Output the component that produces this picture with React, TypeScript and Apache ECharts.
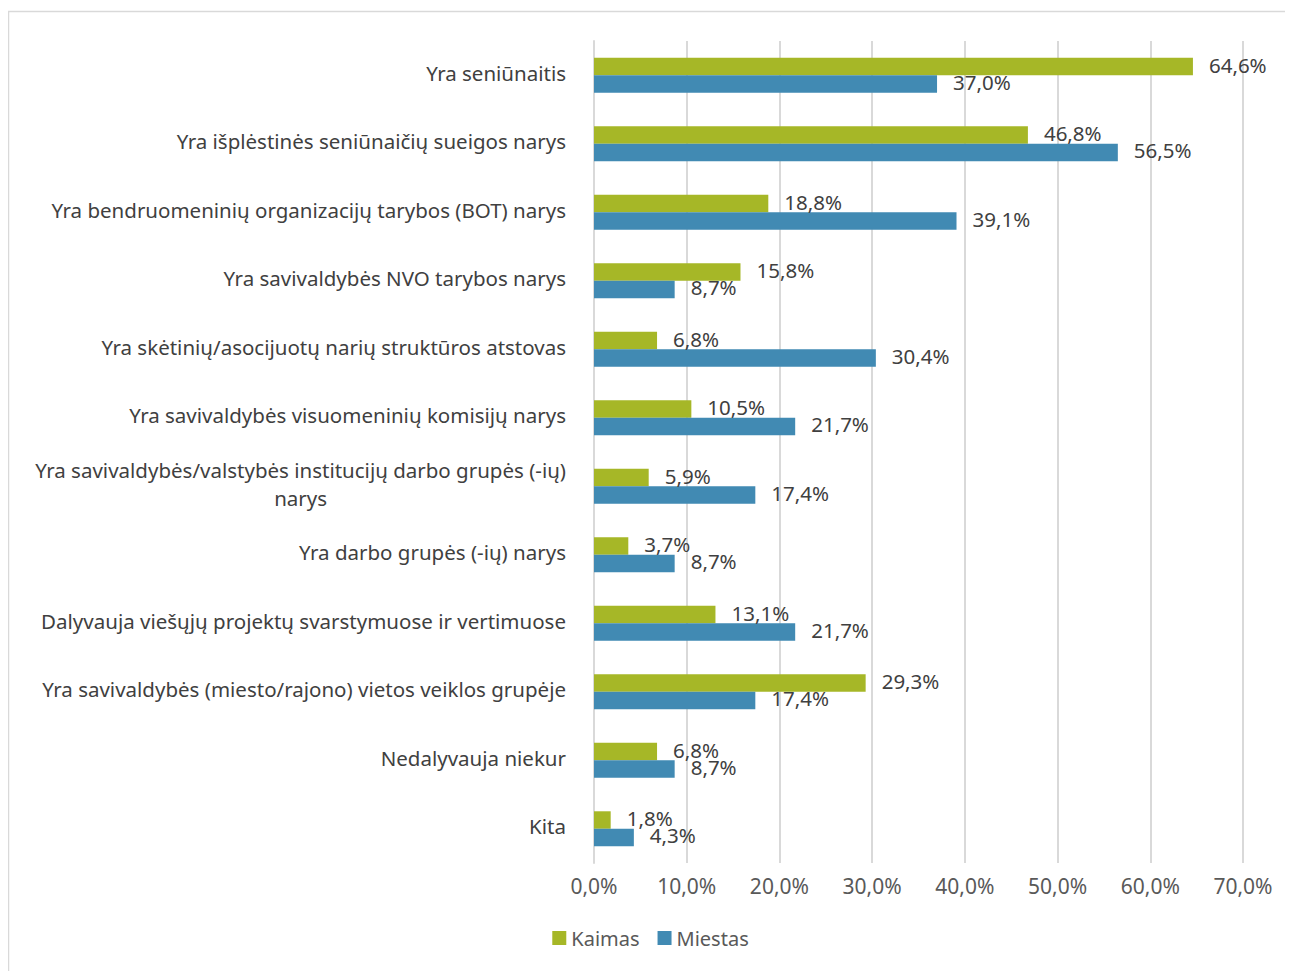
import React, { useEffect, useRef } from "react";
import * as echarts from "echarts";

const categories = [
  "Yra seniūnaitis",
  "Yra išplėstinės seniūnaičių sueigos narys",
  "Yra bendruomeninių organizacijų tarybos (BOT) narys",
  "Yra savivaldybės NVO tarybos narys",
  "Yra skėtinių/asocijuotų narių struktūros atstovas",
  "Yra savivaldybės visuomeninių komisijų narys",
  "Yra savivaldybės/valstybės institucijų darbo grupės (-ių) narys",
  "Yra darbo grupės (-ių) narys",
  "Dalyvauja viešųjų projektų svarstymuose ir vertimuose",
  "Yra savivaldybės (miesto/rajono) vietos veiklos grupėje",
  "Nedalyvauja niekur",
  "Kita",
];

const kaimas = [64.6, 46.8, 18.8, 15.8, 6.8, 10.5, 5.9, 3.7, 13.1, 29.3, 6.8, 1.8];
const miestas = [37.0, 56.5, 39.1, 8.7, 30.4, 21.7, 17.4, 8.7, 21.7, 17.4, 8.7, 4.3];

const xTicks = [0, 10, 20, 30, 40, 50, 60, 70];

const FONT = "Noto Sans";
const FS = 20.5;
const fmt = (v: number) => v.toFixed(1).replace(".", ",") + "%";

export default function App() {
  const ref = useRef<HTMLDivElement>(null);
  useEffect(() => {
    if (!ref.current) return;
    const chart = echarts.init(ref.current, undefined, { renderer: "svg" });
    const labelStyle = {
      show: true,
      position: "right" as const,
      distance: 16,
      offset: [0, -2],
      color: "#404040",
      fontSize: FS,
      fontFamily: FONT,
      formatter: (p: any) => fmt(p.value),
    };
    chart.setOption({
      animation: false,
      textStyle: { fontFamily: FONT },
      graphic: [
        {
          type: "rect",
          shape: { x: 0.5, y: 3.5, width: 1400, height: 1100 },
          style: { fill: "none", stroke: "#d9d9d9", lineWidth: 1.5 },
          silent: true,
        },
      ],
      grid: { left: 586, right: 50, top: 33, bottom: 108, containLabel: false },
      legend: {
        bottom: 18,
        left: "center",
        itemWidth: 14,
        itemHeight: 14,
        itemGap: 18,
        icon: "rect",
        textStyle: { color: "#595959", fontSize: 20, fontFamily: FONT },
        data: ["Kaimas", "Miestas"],
      },
      xAxis: {
        type: "value",
        min: xTicks[0],
        max: xTicks[xTicks.length - 1],
        interval: 10,
        axisLine: { show: false },
        axisTick: { show: false },
        splitLine: { lineStyle: { color: "#d9d9d9", width: 2 } },
        axisLabel: {
          color: "#595959",
          fontSize: 21,
          fontFamily: FONT,
          margin: 12,
          formatter: (v: number) => fmt(v),
        },
      },
      yAxis: {
        type: "category",
        data: categories,
        inverse: true,
        axisLine: { show: true, lineStyle: { color: "#d9d9d9", width: 2 } },
        axisTick: { show: false },
        axisLabel: {
          color: "#404040",
          fontSize: FS,
          fontFamily: FONT,
          margin: 28,
          align: "right",
          padding: [0, 0, 5, 0],
          formatter: (v: string) => {
            if (v.length > 56) {
              const idx = v.lastIndexOf(" ");
              return "{a|" + v.slice(0, idx) + "}\n{c|" + v.slice(idx + 1) + "}";
            }
            return v;
          },
          rich: {
            a: { color: "#404040", fontSize: FS, fontFamily: FONT, lineHeight: 28 },
            c: { color: "#404040", fontSize: FS, fontFamily: FONT, lineHeight: 28, align: "center" },
          },
        },
      },
      series: [
        {
          name: "Kaimas",
          type: "bar",
          data: kaimas,
          barGap: "0%",
          barCategoryGap: "49%",
          itemStyle: { color: "#A6B727" },
          label: labelStyle,
        },
        {
          name: "Miestas",
          type: "bar",
          data: miestas,
          itemStyle: { color: "#418AB3" },
          label: labelStyle,
        },
      ],
    });
    return () => chart.dispose();
  }, []);
  return <div ref={ref} style={{ width: 1285, height: 963 }} />;
}
